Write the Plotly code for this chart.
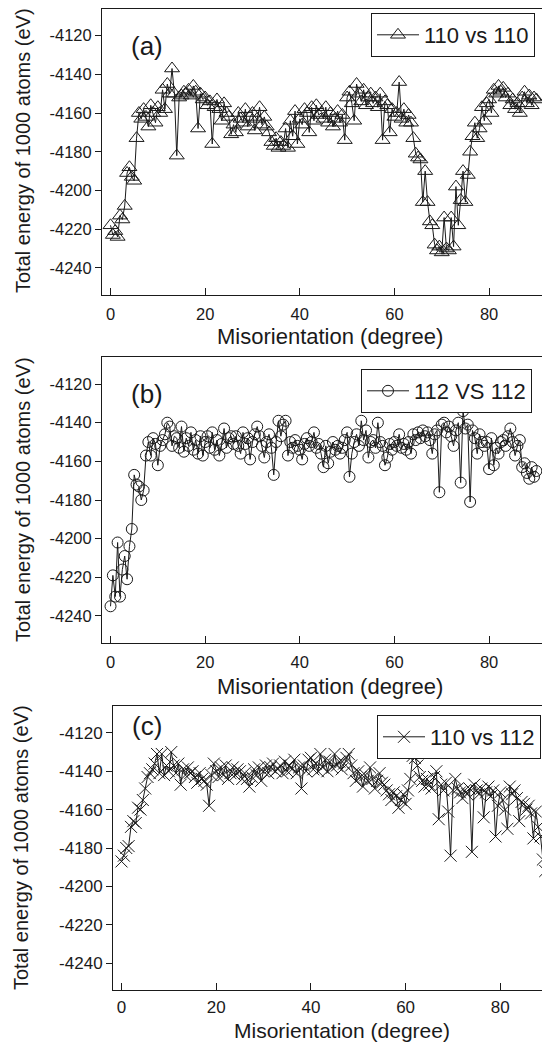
import plotly.graph_objects as go

FONT = "Liberation Sans, Arial, sans-serif"
INK = "#1a1a1a"

# Misorientation grid (degrees), 0.5 degree step
angles = [i * 0.5 for i in range(181)]

# (a) 110 vs 110
energy_110_110 = [
    -4218, -4223, -4221, -4224, -4213, -4215, -4208, -4191, -4188, -4193,
    -4195, -4173, -4160, -4163, -4158, -4162, -4167, -4156, -4160, -4165,
    -4157, -4160, -4148, -4158, -4145, -4150, -4137, -4150, -4182, -4152,
    -4151, -4149, -4150, -4148, -4151, -4146, -4149, -4168, -4150, -4153,
    -4152, -4156, -4154, -4176, -4157, -4153, -4158, -4164, -4155, -4160,
    -4162, -4171, -4166, -4170, -4160, -4163, -4165, -4158, -4167, -4162,
    -4160, -4169, -4163, -4157, -4166, -4162, -4167, -4170, -4175, -4177,
    -4173, -4178, -4175, -4177, -4168, -4178, -4164, -4172, -4159, -4176,
    -4163, -4166, -4158, -4160, -4170, -4157, -4164, -4156, -4161, -4160,
    -4163, -4157, -4165, -4160, -4167, -4163, -4159, -4165, -4161, -4174,
    -4152, -4149, -4155, -4164, -4145, -4150, -4154, -4148, -4156, -4152,
    -4150, -4155, -4152, -4157, -4150, -4174, -4154, -4156, -4170, -4158,
    -4162, -4160, -4144, -4163, -4158, -4165, -4161, -4165, -4173, -4181,
    -4183, -4184, -4206, -4190, -4206, -4216, -4218, -4228, -4231, -4229,
    -4232, -4214, -4230, -4231, -4214, -4229, -4198, -4218, -4205, -4190,
    -4206, -4192, -4180, -4172, -4165, -4173, -4168, -4157, -4164, -4155,
    -4153, -4160, -4148, -4150, -4146, -4149, -4147, -4152, -4150, -4156,
    -4153, -4158, -4155, -4160, -4152, -4149, -4155, -4151, -4156, -4152,
    -4153,
]

# (b) 112 VS 112
energy_112_112 = [
    -4235, -4219, -4230, -4202, -4230, -4216, -4209, -4221, -4204, -4195,
    -4167, -4172, -4173, -4180, -4175, -4157, -4150, -4157, -4148, -4151,
    -4162, -4152, -4149, -4146, -4140, -4142, -4152, -4147, -4148, -4153,
    -4142, -4155, -4148, -4152, -4145, -4154, -4149, -4156, -4147, -4157,
    -4150, -4147, -4153, -4145, -4154, -4149, -4157, -4151, -4143, -4153,
    -4148, -4147, -4151, -4147, -4152, -4156, -4145, -4151, -4148, -4159,
    -4150, -4146, -4142, -4147, -4152, -4158, -4150, -4146, -4153, -4167,
    -4150, -4139, -4147, -4141, -4139, -4157, -4150, -4153, -4149, -4152,
    -4154, -4159, -4151, -4148, -4152, -4150, -4145, -4153, -4151, -4156,
    -4163, -4152, -4161, -4155, -4150, -4154, -4152, -4156, -4153, -4149,
    -4145, -4168, -4156, -4150, -4146, -4152, -4139, -4149, -4144, -4158,
    -4150, -4149, -4153, -4140, -4150, -4152, -4162, -4158, -4151, -4154,
    -4150, -4152, -4146, -4153, -4151, -4154, -4150, -4156, -4146, -4149,
    -4145, -4148, -4144, -4147, -4145, -4149, -4156, -4146, -4144, -4176,
    -4141, -4140, -4145, -4142, -4147, -4152, -4144, -4140, -4171, -4134,
    -4143, -4141, -4181, -4144, -4148, -4156, -4146, -4150, -4152, -4150,
    -4164, -4148, -4162, -4153, -4156, -4150, -4149, -4152, -4147, -4143,
    -4150, -4157, -4152, -4149, -4163, -4161, -4166, -4169, -4163, -4168,
    -4165,
]

# (c) 110 vs 112
energy_110_112 = [
    -4187, -4184, -4180, -4179, -4169, -4166, -4167, -4159, -4160, -4155,
    -4149, -4143, -4141, -4139, -4136, -4131, -4141, -4131, -4142, -4137,
    -4140, -4130, -4137, -4141, -4136, -4147, -4139, -4142, -4138, -4141,
    -4140, -4143, -4146, -4141, -4144, -4145, -4147, -4158, -4142, -4136,
    -4140, -4143, -4138, -4142, -4137, -4144, -4141, -4138, -4142, -4139,
    -4140, -4144, -4141, -4144, -4148, -4143, -4139, -4142, -4138, -4145,
    -4140, -4137, -4141, -4138, -4136, -4140, -4139, -4137, -4141, -4135,
    -4140, -4137, -4139, -4134, -4141, -4138, -4149, -4137, -4140, -4134,
    -4133, -4139, -4136, -4140, -4131, -4138, -4134, -4140, -4135, -4138,
    -4131, -4137, -4135, -4139, -4136, -4133, -4131, -4137, -4141, -4145,
    -4140, -4143, -4148, -4142, -4145, -4138, -4144, -4149, -4145, -4141,
    -4146, -4147, -4150, -4152, -4155, -4151, -4153, -4159, -4155, -4152,
    -4157, -4150, -4144, -4132, -4133, -4137, -4143, -4145, -4148, -4144,
    -4147, -4149, -4143, -4140, -4165, -4147, -4150, -4146, -4161, -4184,
    -4150, -4144, -4149, -4151, -4154, -4150, -4152, -4149, -4182, -4147,
    -4150, -4152, -4149, -4164, -4151, -4148, -4153, -4150, -4174, -4158,
    -4151, -4155, -4160, -4170, -4148, -4152, -4150, -4154, -4166, -4156,
    -4157, -4160, -4158, -4162, -4175, -4161, -4169, -4174, -4186, -4192,
    -4177,
]

series_names = ["110 vs 110", "112 VS 112", "110 vs 112"]
panel_labels = ["(a)", "(b)", "(c)"]
x_tick_vals = [0, 20, 40, 60, 80]
x_tick_text = ["0", "20", "40", "60", "80"]
y_tick_vals = [-4120, -4140, -4160, -4180, -4200, -4220, -4240]
y_tick_text = ["-4120", "-4140", "-4160", "-4180", "-4200", "-4220", "-4240"]
x_title = "Misorientation (degree)"
y_title = "Total energy of 1000 atoms (eV)"

# the page body keeps its default 8px margin, so the figure is 8px smaller
PAGE_W, PAGE_H, OFF = 550, 1043, 8
W, H = PAGE_W - OFF, PAGE_H - OFF

def px_x(p):
    return (p - OFF) / W

def px_y(p):
    return 1 - (p - OFF) / H

# panel geometry (page pixels): left, right, top, bottom
panels = [
    dict(l=102, r=543, t=8.5, b=295, xr=[-1.8, 91.4], tick=16.5, sd=4,
         sym="triangle-up-open", size=13),
    dict(l=102, r=543, t=357, b=643, xr=[-1.8, 91.4], tick=16.5, sd=4,
         sym="circle-open", size=11),
    dict(l=113, r=550, t=706, b=990, xr=[-1.8, 90.5], tick=17, sd=2,
         sym="x-thin-open", size=12),
]
series = [energy_110_110, energy_112_112, energy_110_112]
legend_pos = [(535, 13), (532, 369), (541, 715)]
xtitle_pos = [(330, 336, 22), (330, 686, 22), (342, 1030, 21)]
ytitle_pos = [(23, 151), (23, 500), (21, 848)]
label_pos = [(147, 46), (147, 394), (147, 726)]

fig = go.Figure()
layout = dict(
    width=W, height=H,
    margin=dict(l=0, r=0, t=0, b=0),
    paper_bgcolor="white", plot_bgcolor="white",
    font=dict(family=FONT, color=INK),
    annotations=[],
)

for k, (p, yv, name) in enumerate(zip(panels, series, series_names)):
    sfx = "" if k == 0 else str(k + 1)
    leg = "legend" if k == 0 else "legend" + str(k + 1)
    fig.add_trace(go.Scatter(
        x=angles, y=yv, name=name, mode="lines+markers",
        xaxis="x" + sfx, yaxis="y" + sfx, legend=leg,
        line=dict(color=INK, width=1),
        marker=dict(symbol=p["sym"], size=p["size"], color=INK,
                    line=dict(color=INK, width=1)),
        showlegend=True,
    ))
    layout["xaxis" + sfx] = dict(
        domain=[px_x(p["l"]), min(1.0, px_x(p["r"]))],
        anchor="y" + sfx, range=p["xr"],
        tickvals=x_tick_vals, ticktext=x_tick_text,
        ticks="inside", ticklen=7, tickwidth=1, tickcolor=INK,
        showline=True, linecolor=INK, linewidth=1, mirror=True,
        showgrid=False, zeroline=False,
        tickfont=dict(size=p["tick"], family=FONT, color=INK),
        ticklabelstandoff=p["sd"],
    )
    layout["yaxis" + sfx] = dict(
        domain=[px_y(p["b"]), min(1.0, px_y(p["t"]))],
        anchor="x" + sfx, range=[-4254, -4106],
        tickvals=y_tick_vals, ticktext=y_tick_text,
        ticks="outside", ticklen=6, tickwidth=1, tickcolor=INK,
        showline=True, linecolor=INK, linewidth=1, mirror=(k < 2),
        showgrid=False, zeroline=False,
        tickfont=dict(size=p["tick"], family=FONT, color=INK),
    )
    lx, ly = legend_pos[k]
    layout[leg] = dict(
        x=px_x(lx), y=px_y(ly), xanchor="right", yanchor="top",
        xref="paper", yref="paper",
        bgcolor="white", bordercolor=INK, borderwidth=1,
        itemwidth=42,
        font=dict(size=22, family=FONT, color=INK),
    )
    tx, ty, tsz = xtitle_pos[k]
    layout["annotations"].append(dict(
        text=x_title, x=px_x(tx), y=px_y(ty), xref="paper", yref="paper",
        showarrow=False, xanchor="center", yanchor="middle",
        font=dict(size=tsz, family=FONT, color=INK)))
    yx, yy = ytitle_pos[k]
    layout["annotations"].append(dict(
        text=y_title, x=px_x(yx), y=px_y(yy), xref="paper", yref="paper",
        showarrow=False, xanchor="center", yanchor="middle", textangle=-90,
        font=dict(size=20, family=FONT, color=INK)))
    bx, by = label_pos[k]
    layout["annotations"].append(dict(
        text=panel_labels[k], x=px_x(bx), y=px_y(by), xref="paper", yref="paper",
        showarrow=False, xanchor="center", yanchor="middle",
        font=dict(size=26, family=FONT, color=INK)))

fig.update_layout(**layout)
fig.write_html("out.html")
